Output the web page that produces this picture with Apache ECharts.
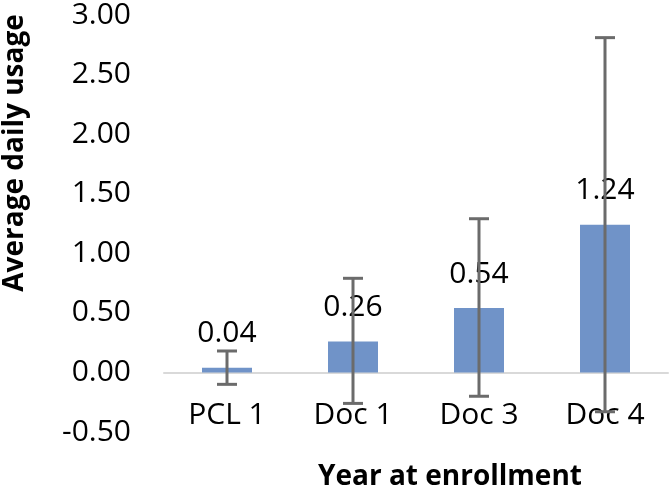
<!DOCTYPE html>
<html>
<head>
<meta charset="utf-8">
<script src="https://cdn.jsdelivr.net/npm/echarts@6/dist/echarts.min.js"></script>
<style>
html,body{margin:0;padding:0;background:#fff;}
#chart{width:669px;height:490px;}
</style>
</head>
<body>
<div id="chart"></div>
<script>
const categories = ['PCL 1', 'Doc 1', 'Doc 3', 'Doc 4'];
const means = [0.04, 0.26, 0.54, 1.24];
const errLow = [-0.10, -0.26, -0.20, -0.33];
const errHigh = [0.18, 0.79, 1.29, 2.81];
const yTitle = 'Average daily usage';
const xTitle = 'Year at enrollment';

const FONT = '"Open Sans", sans-serif';
const chart = echarts.init(document.getElementById('chart'));
const errData = categories.map((c, i) => [i, errLow[i], errHigh[i]]);

chart.setOption({
  animation: false,
  grid: { left: 164, right: 1, top: 12, bottom: 58 },
  xAxis: [
    {
      type: 'category', data: categories,
      axisLine: { onZero: true, lineStyle: { color: '#d9d9d9', width: 2 } },
      axisTick: { show: false }, axisLabel: { show: false }
    },
    {
      type: 'category', data: categories, position: 'bottom',
      axisLine: { show: false, onZero: false }, axisTick: { show: false },
      axisLabel: { color: '#000', fontFamily: FONT, fontSize: 30, margin: -17, verticalAlign: 'middle' }
    }
  ],
  yAxis: {
    type: 'value', min: -0.5, max: 3, interval: 0.5,
    splitLine: { show: false }, axisLine: { show: false }, axisTick: { show: false },
    axisLabel: { color: '#000', fontFamily: FONT, fontSize: 30, margin: 33, formatter: v => v.toFixed(2) }
  },
  series: [
    {
      type: 'bar', data: means, barWidth: 50, xAxisIndex: 0,
      itemStyle: { color: '#7093c8' },
      label: { show: true, position: 'top', distance: 19, color: '#000', fontFamily: FONT, fontSize: 30,
               formatter: p => p.value.toFixed(2) }
    },
    {
      type: 'custom', xAxisIndex: 0, data: errData, z: 5,
      renderItem: function (params, api) {
        const x = api.value(0);
        const lo = api.coord([x, api.value(1)]);
        const hi = api.coord([x, api.value(2)]);
        const hw = 10;
        const st = { stroke: '#6b6b6b', lineWidth: 3 };
        return {
          type: 'group',
          children: [
            { type: 'line', shape: { x1: lo[0], y1: lo[1], x2: hi[0], y2: hi[1] }, style: st },
            { type: 'line', shape: { x1: lo[0] - hw, y1: lo[1], x2: lo[0] + hw, y2: lo[1] }, style: st },
            { type: 'line', shape: { x1: hi[0] - hw, y1: hi[1], x2: hi[0] + hw, y2: hi[1] }, style: st }
          ]
        };
      }
    }
  ],
  graphic: [
    { type: 'text', x: 15, y: 153, rotation: Math.PI / 2,
      style: { text: yTitle, font: 'bold 28px "Open Sans", sans-serif', fill: '#000', textAlign: 'center', textVerticalAlign: 'middle' } },
    { type: 'text', x: 450, y: 477,
      style: { text: xTitle, font: 'bold 28px "Open Sans", sans-serif', fill: '#000', textAlign: 'center', textVerticalAlign: 'middle' } }
  ]
});
</script>
</body>
</html>
